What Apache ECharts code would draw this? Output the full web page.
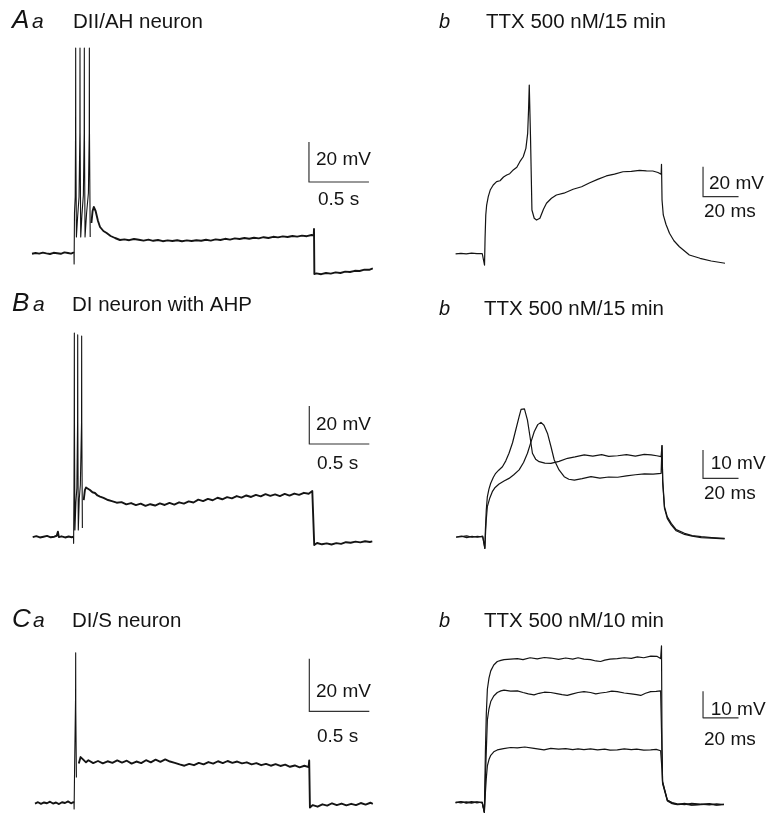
<!DOCTYPE html>
<html><head><meta charset="utf-8">
<script src="https://cdn.jsdelivr.net/npm/echarts@6/dist/echarts.min.js"></script>
<style>html,body{margin:0;padding:0;background:#fff}#c{width:768px;height:829px}</style>
</head><body><div id="c"></div>
<script>
// ---------- DATA (time in ms, membrane potential in mV) ----------
const traceAa = [
[-350,-60.4],[-320,-60.0],[-290,-60.3],[-260,-59.8],[-230,-60.2],[-200,-60.5],[-170,-59.9],[-140,-60.1],[-110,-60.4],[-80,-59.7],[-50,-60.0],[-25,-60.3],[-5,-59.8],[0,-60],
[1,-65.5],[4,-40],[10,-32],[13,0],[14,42.5],[15,0],[20,-52],[30,-42],[42,-32],[49,0],[50,42.5],[51,0],[56,-52],[66,-41],[78,-31],[85,0],[86,42.5],[87,0],[92,-52],[105,-40],[120,-30],[127,0],[128,42.5],[129,0],[135,-52],[145,-45],[155,-39],[165,-37],[180,-39],[200,-44],[217,-47],[245,-49],[272,-50],[305,-51.5],[342,-52.5],[383,-53.5],
[420,-53.2],[460,-53.6],[500,-53.0],[540,-53.4],[580,-53.8],[620,-53.3],[660,-53.9],[700,-53.5],[740,-54.1],[780,-53.7],[820,-54.0],[860,-53.6],[900,-54.1],[940,-53.7],[980,-54.0],[1020,-53.6],[1060,-53.9],[1100,-53.4],[1140,-53.8],[1180,-53.2],[1220,-53.5],[1260,-52.9],[1300,-53.3],[1340,-52.7],[1380,-53.0],[1420,-52.5],[1460,-52.9],[1500,-52.4],[1540,-52.7],[1580,-52.1],[1620,-52.5],[1660,-51.9],[1700,-52.2],[1740,-51.7],[1780,-52.0],[1820,-51.5],[1860,-51.8],[1900,-51.3],[1940,-51.6],[1980,-51.0],[1998,-51.2],
[2000,-48],[2003,-70.5],[2020,-70.2],[2060,-70.6],[2100,-70.0],[2140,-70.3],[2180,-69.7],[2220,-70.0],[2260,-69.3],[2300,-69.5],[2340,-68.9],[2380,-69.0],[2420,-68.3],[2460,-68.4],[2490,-67.7]
];
const traceAb = [
[-16,-60.3],[-13,-59.9],[-10,-60.2],[-7,-59.8],[-4,-60.1],[-1,-60],[0,-60],[0.3,-67.7],[0.6,-50],[1,-34.3],[1.5,-27.7],[2.4,-22.1],[3.5,-17.7],[5.2,-14.3],[6.2,-13.2],[7.1,-12.1],[9,-11.5],[11,-9.0],[12.8,-7.7],[14.5,-6.8],[16.5,-4.3],[18.5,-2.5],[20.2,1.2],[22.1,4.5],[23.6,10.1],[24.6,20.1],[25.1,35.7],[25.5,52.3],[26.2,17.9],[27,-31],[28.3,-36.5],[29.6,-37.7],[31.5,-36.5],[33.5,-30.5],[35.2,-26.5],[38,-23.2],[40.8,-21],[45,-19.8],[50.2,-17.2],[55,-15.5],[59.6,-12.8],[64,-10.6],[68.9,-8.3],[73.5,-7.1],[78.3,-5.5],[83,-5.3],[87.6,-4.6],[91.5,-4.9],[95.1,-5.0],[98,-6],[99.8,-7.2],
[100,-0.5],[100.3,-24.3],[101,-34.3],[102.5,-40.5],[104.5,-46.5],[107,-51.5],[110.1,-55.5],[115.7,-61],[121.7,-63.2],[128,-65],[135.8,-66.5]
];
const traceBa = [
[-340,-60.2],[-310,-59.7],[-280,-60.4],[-250,-60.0],[-220,-59.6],[-190,-60.3],[-160,-60.0],[-140,-59.5],[-130,-57.4],[-122,-60.2],[-100,-59.8],[-70,-60.4],[-40,-59.9],[-15,-60.3],[0,-60],
[1,-63.5],[4,-35.4],[6,0],[7,47.2],[8,0],[12,-56.5],[20,-42],[28,-34.4],[34,0],[35,46.2],[36,0],[40,-56.5],[48,-40],[57,-32.8],[67,0],[68,45.6],[69,0],[74,-55.4],[85,-40.7],[95,-35.5],[104,-34.1],[120,-35],[137,-35.4],[158,-36.6],[179,-37],[200,-38.3],[221,-38.9],[250,-39.6],[288,-40.7],[320,-41.3],[360,-42.1],
[400,-41.8],[440,-43.0],[480,-42.3],[520,-43.4],[560,-42.6],[600,-43.8],[640,-42.9],[680,-43.6],[720,-42.5],[760,-43.3],[800,-42.2],[840,-43.1],[880,-41.9],[920,-42.6],[960,-41.4],[1000,-42.0],[1040,-40.5],[1080,-41.3],[1120,-40.1],[1160,-40.8],[1200,-39.5],[1240,-40.3],[1280,-39.2],[1320,-39.8],[1360,-38.6],[1400,-39.4],[1440,-38.3],[1480,-39.1],[1520,-38.0],[1560,-38.8],[1600,-37.6],[1640,-38.5],[1680,-37.7],[1720,-38.6],[1760,-37.5],[1800,-38.4],[1840,-37.3],[1880,-38.0],[1920,-36.9],[1960,-37.4],[1990,-36.0],
[2000,-35.5],[2006,-64.4],[2030,-63.3],[2070,-64.0],[2110,-63.5],[2150,-64.1],[2190,-63.4],[2230,-63.8],[2270,-62.9],[2310,-63.2],[2350,-62.6],[2390,-63.0],[2430,-62.4],[2470,-62.8],[2490,-62.5]
];
const traceBb1 = [
[-16,-60.1],[-13,-59.8],[-10,-60.3],[-7,-59.9],[-4,-60.2],[-1,-59.8],[0,-60],[0.2,-64.1],[0.5,-57.6],[1,-50.6],[1.6,-45.9],[2.5,-43.2],[3.5,-41.1],[5,-39],[6.3,-37.6],[8,-36.5],[10.1,-35.3],[12,-33.2],[13.8,-30.5],[15.8,-26.8],[17.6,-22.3],[19.5,-17.6],[20.6,-15],[21.4,-14.3],[22.5,-14.8],[24.2,-18.8],[25.6,-24.5],[27,-30.5],[28.8,-32.6],[30.8,-33.5],[34,-34],[37.4,-34.1],[42,-33.4],[46.8,-32.3],[51,-31.8],[56.2,-31.1],[61,-31.5],[66,-31.0],[70,-31.6],[75,-31.4],[80,-31.0],[85,-31.5],[90,-30.9],[93.9,-31.1],[97,-31.4],[99.5,-31.7],
[100,-27.8],[100.4,-40],[101.4,-49.4],[103,-53],[105.2,-55.3],[108,-57.5],[112.7,-58.8],[117,-59.6],[122.1,-60],[128,-60.3],[135.3,-60.6]
];
const traceBb2 = [
[-16,-60.2],[-13,-60.0],[-10,-59.7],[-7,-60.2],[-4,-59.9],[-1,-60.1],[0,-60],[0.2,-64.1],[0.6,-58.5],[1,-54],[1.6,-49.4],[3,-46.3],[4.4,-44.1],[6,-42.6],[8.2,-41.4],[11,-40.3],[13.8,-39.4],[16.5,-38.1],[19.5,-36.4],[22,-33.8],[24.2,-30.5],[26.2,-26.5],[28,-22.9],[30,-20.4],[31.8,-19.6],[33.5,-20.6],[35.5,-23.5],[37.5,-28.3],[39.3,-32.9],[42,-36.4],[44.9,-38.8],[47.5,-39.7],[50.6,-40],[55,-39.5],[60,-38.8],[65,-39.3],[70,-38.9],[75,-39],[80,-38.5],[85,-38.1],[90.1,-37.8],[95,-37.9],[99.5,-37.6],
[100,-27.8],[100.4,-41],[101.4,-50],[103,-53.6],[105.2,-55.8],[108,-57.9],[112.7,-59.2],[117,-59.8],[122.1,-60.3],[128,-60.5],[135.3,-60.8]
];
const traceCa = [
[-325,-60.3],[-300,-59.8],[-275,-60.4],[-250,-59.9],[-225,-60.2],[-200,-59.6],[-175,-60.3],[-150,-59.9],[-125,-60.5],[-100,-59.8],[-75,-60.1],[-50,-59.5],[-25,-60.2],[-5,-59.8],[0,-60],
[1,-62.4],[5,-46.9],[13,-20],[14,-2.9],[15,-25],[20,-50.4],[40,-45.1],[55,-42.6],[75,-43.5],[100,-44.6],
[120,-43.8],[160,-44.9],[200,-44.1],[240,-45.0],[280,-44.2],[320,-44.8],[360,-43.9],[400,-44.7],[440,-44.0],[480,-45.1],[520,-44.3],[560,-44.9],[600,-43.8],[640,-44.6],[680,-43.6],[720,-44.4],[760,-43.5],[800,-44.3],[840,-44.8],[880,-45.4],[920,-45.9],[960,-45.2],[1000,-45.7],[1040,-44.8],[1080,-45.4],[1120,-44.5],[1160,-45.1],[1200,-44.2],[1240,-44.9],[1280,-44.1],[1320,-44.8],[1360,-44.3],[1400,-45.0],[1440,-44.6],[1480,-45.4],[1520,-44.9],[1560,-45.7],[1600,-45.2],[1640,-45.9],[1680,-45.3],[1720,-46.0],[1760,-45.5],[1800,-46.3],[1840,-45.8],[1880,-46.5],[1920,-45.9],[1955,-46.4],
[1960,-43.9],[1966,-61.8],[1990,-60.9],[2030,-61.5],[2070,-60.6],[2110,-61.1],[2150,-60.2],[2190,-60.9],[2230,-60.3],[2270,-61.0],[2310,-60.4],[2350,-60.9],[2390,-60.1],[2430,-60.7],[2470,-60.0],[2490,-60.4]
];
const traceCb1 = [
[-16,-60.2],[-13,-59.8],[-10,-60.1],[-7,-59.7],[-4,-60.2],[-1,-59.9],[0,-60],[0.2,-63.8],[0.8,-40.7],[1.3,-26.9],[1.9,-17.7],[2.8,-13.5],[3.8,-10.8],[5.5,-8.6],[7.5,-7.3],[9.5,-6.9],[11.3,-6.6],[15,-6.4],[18.8,-6.2],[22,-6.6],[26,-5.9],[30,-6.3],[34,-5.8],[37.6,-6],[42,-6.5],[46,-6.0],[50,-6.4],[53,-5.9],[56.3,-6.4],[60,-6.6],[63,-7.1],[65.7,-7.3],[68,-6.8],[71,-6.4],[75.1,-6.2],[79,-5.9],[83,-6.1],[86.4,-5.6],[90,-5.9],[94,-5.3],[97.6,-5.4],[99.5,-6.2],
[100,-1.4],[100.3,-40],[100.6,-52.2],[103.3,-59.1],[106,-60.3],[108.9,-60.8],[113,-60.4],[117,-61.0],[122.1,-60.8],[127,-60.5],[131,-61.0],[135.2,-60.8]
];
const traceCb2 = [
[-16,-59.9],[-13,-60.2],[-10,-59.8],[-7,-60.3],[-4,-59.9],[-1,-60.1],[0,-60],[0.2,-63.8],[0.8,-51],[1.3,-40.7],[1.9,-29.2],[2.8,-25],[3.8,-22.3],[5.5,-20.2],[7.5,-18.9],[9.5,-18.3],[11.3,-18],[15,-18.4],[18.8,-18.3],[22,-18.9],[25,-19.4],[28.2,-19.8],[31,-19.2],[34,-18.8],[37.6,-18.9],[41,-19.3],[44,-19.7],[46.9,-20],[50,-19.4],[53,-18.9],[56.3,-18.6],[60,-18.9],[63,-19.4],[65.7,-19.1],[69,-18.8],[72,-18.4],[75.1,-18.6],[79,-19.1],[83,-19.4],[86,-19.7],[88.3,-20],[91,-19.2],[93.9,-18.6],[97,-18.5],[99.5,-18.3],
[100,-18.5],[100.3,-42],[100.6,-52.5],[103.3,-59.3],[106,-60.1],[108.9,-60.6],[113,-60.9],[117,-60.4],[122.1,-60.7],[127,-61.0],[131,-60.6],[135.2,-60.9]
];
const traceCb3 = [
[-16,-60.1],[-13,-59.7],[-10,-60.3],[-7,-60.0],[-4,-59.8],[-1,-60.2],[0,-60],[0.2,-63.8],[0.8,-56.2],[1.3,-51],[1.9,-46.4],[2.8,-44],[3.8,-42.4],[5.5,-41.1],[7.5,-40.4],[11,-39.9],[15,-39.5],[18.8,-39.6],[23,-39.3],[28.2,-39.8],[31,-40.1],[33.8,-40.4],[37.6,-39.8],[42,-40.1],[46,-39.9],[50,-40.3],[53,-40.0],[56.3,-40.3],[60,-40.0],[64,-40.4],[68,-40.1],[71,-40.5],[75.1,-40.4],[79,-40.0],[83,-40.3],[86,-40.1],[90,-40.5],[93.9,-40.4],[97,-40.2],[99.5,-40.7],
[100,-40.9],[100.3,-48],[100.6,-53],[103.3,-59.5],[106,-60.5],[108.9,-60.9],[113,-60.7],[117,-61.1],[122.1,-60.9],[127,-60.7],[131,-61.1],[135.2,-60.8]
];
// scale bars: [x, yTop], [x, yBottom], [x + length, yBottom]
const scaleAa = [[1958,-4.5],[1958,-24.5],[2458,-24.5]];
const scaleBa = [[1965,8.8],[1965,-11.2],[2465,-11.2]];
const scaleCa = [[1961,-5.2],[1961,-25.2],[2461,-25.2]];
const scaleAb = [[123.4,-2.1],[123.4,-22.1],[143.4,-22.1]];
const scaleBb = [[123.1,-29.4],[123.1,-39.4],[143.1,-39.4]];
const scaleCb = [[123.4,-18.4],[123.4,-28.4],[143.4,-28.4]];
const panelTitles = ['DII/AH neuron','TTX 500 nM/15 min','DI neuron with AHP','TTX 500 nM/15 min','DI/S neuron','TTX 500 nM/10 min'];
const scaleLabels = [['20 mV','0.5 s'],['20 mV','20 ms'],['20 mV','0.5 s'],['10 mV','20 ms'],['20 mV','0.5 s'],['10 mV','20 ms']];

// ---------- LAYOUT ----------
// spikeWin: time window drawn with a thin pen (fast spikes); the rest of a long sweep is drawn thicker (noise)
const panels = [
  {x:[-400,2600], y:[-80,60], grid:{left:26,   top:13,    width:360,    height:280},   traces:[traceAa], bar:scaleAa, lw:1.9, spikeWin:[0,140]},
  {x:[-20,150],   y:[-80,60], grid:{left:448.5,top:73.5,  width:301.75, height:210},   traces:[traceAb], bar:scaleAb, lw:1.2},
  {x:[-400,2600], y:[-80,60], grid:{left:25.5, top:308.7, width:360,    height:266},   traces:[traceBa], bar:scaleBa, lw:1.9, spikeWin:[0,80]},
  {x:[-20,150],   y:[-70,0],  grid:{left:449,  top:366.9, width:301.75, height:198.1}, traces:[traceBb1,traceBb2], bar:scaleBb, lw:1.2},
  {x:[-400,2600], y:[-70,20], grid:{left:26,   top:592.7, width:360,    height:252},   traces:[traceCa], bar:scaleCa, lw:1.9, spikeWin:[0,22]},
  {x:[-20,150],   y:[-70,0],  grid:{left:448.5,top:642,   width:301.75, height:203},   traces:[traceCb1,traceCb2,traceCb3], bar:scaleCb, lw:1.2}
];
const ink = '#141414';
const grids = [], xAxes = [], yAxes = [], series = [];
function lineSeries(i, data, w, color) {
  return {type:'line', xAxisIndex:i, yAxisIndex:i, data:data, showSymbol:false, symbol:'none', clip:false, silent:true, lineStyle:{color:color || ink, width:w, join:'round'}};
}
panels.forEach((p, i) => {
  grids.push(Object.assign({containLabel:false}, p.grid));
  xAxes.push({type:'value', gridIndex:i, min:p.x[0], max:p.x[1], show:false});
  yAxes.push({type:'value', gridIndex:i, min:p.y[0], max:p.y[1], show:false});
  p.traces.forEach(t => {
    if (p.spikeWin) {
      const [a, b] = p.spikeWin;
      series.push(lineSeries(i, t.filter(d => d[0] <= a), p.lw));
      series.push(lineSeries(i, t.filter(d => d[0] >= a && d[0] <= b), 1.1));
      series.push(lineSeries(i, t.filter(d => d[0] >= b), p.lw));
    } else {
      series.push(lineSeries(i, t, p.lw));
    }
  });
  series.push(lineSeries(i, p.bar, 1.2, '#333'));
});

const F = '"Liberation Sans", Arial, Helvetica, sans-serif';
function txt(text, x, y, size, italic) {
  return {type:'text', x:x, y:y, silent:true, style:{text:text, font:(italic?'italic ':'') + size + 'px ' + F, fill:ink, textAlign:'left', align:'left', textVerticalAlign:'middle', verticalAlign:'middle'}};
}
const graphics = [
  txt('A',12,21,26,true), txt('a',32,22.5,21,true), txt(panelTitles[0],73,22.5,20.5),
  txt('b',439,22.5,20,true), txt(panelTitles[1],486,22.5,20.5),
  txt('B',12,304,26,true), txt('a',33,305.5,21,true), txt(panelTitles[2],72,305.5,20.5),
  txt('b',439,309,20,true), txt(panelTitles[3],484,309,20.5),
  txt('C',12,620,26,true), txt('a',33,621.5,21,true), txt(panelTitles[4],72,621.5,20.5),
  txt('b',439,621.5,20,true), txt(panelTitles[5],484,621.5,20.5),
  txt(scaleLabels[0][0],316,159.5,19), txt(scaleLabels[0][1],318,199.5,19),
  txt(scaleLabels[1][0],709,183.5,19), txt(scaleLabels[1][1],704,211.5,19),
  txt(scaleLabels[2][0],316,425,19), txt(scaleLabels[2][1],317,464,19),
  txt(scaleLabels[3][0],710.7,464,19), txt(scaleLabels[3][1],704,494,19),
  txt(scaleLabels[4][0],316,691.5,19), txt(scaleLabels[4][1],317,736.5,19),
  txt(scaleLabels[5][0],710.7,710,19), txt(scaleLabels[5][1],704,740,19)
];

const chart = echarts.init(document.getElementById('c'), null, {renderer:'canvas'});
chart.setOption({animation:false, backgroundColor:'#fff', grid:grids, xAxis:xAxes, yAxis:yAxes, series:series, graphic:{elements:graphics}});
</script></body></html>
